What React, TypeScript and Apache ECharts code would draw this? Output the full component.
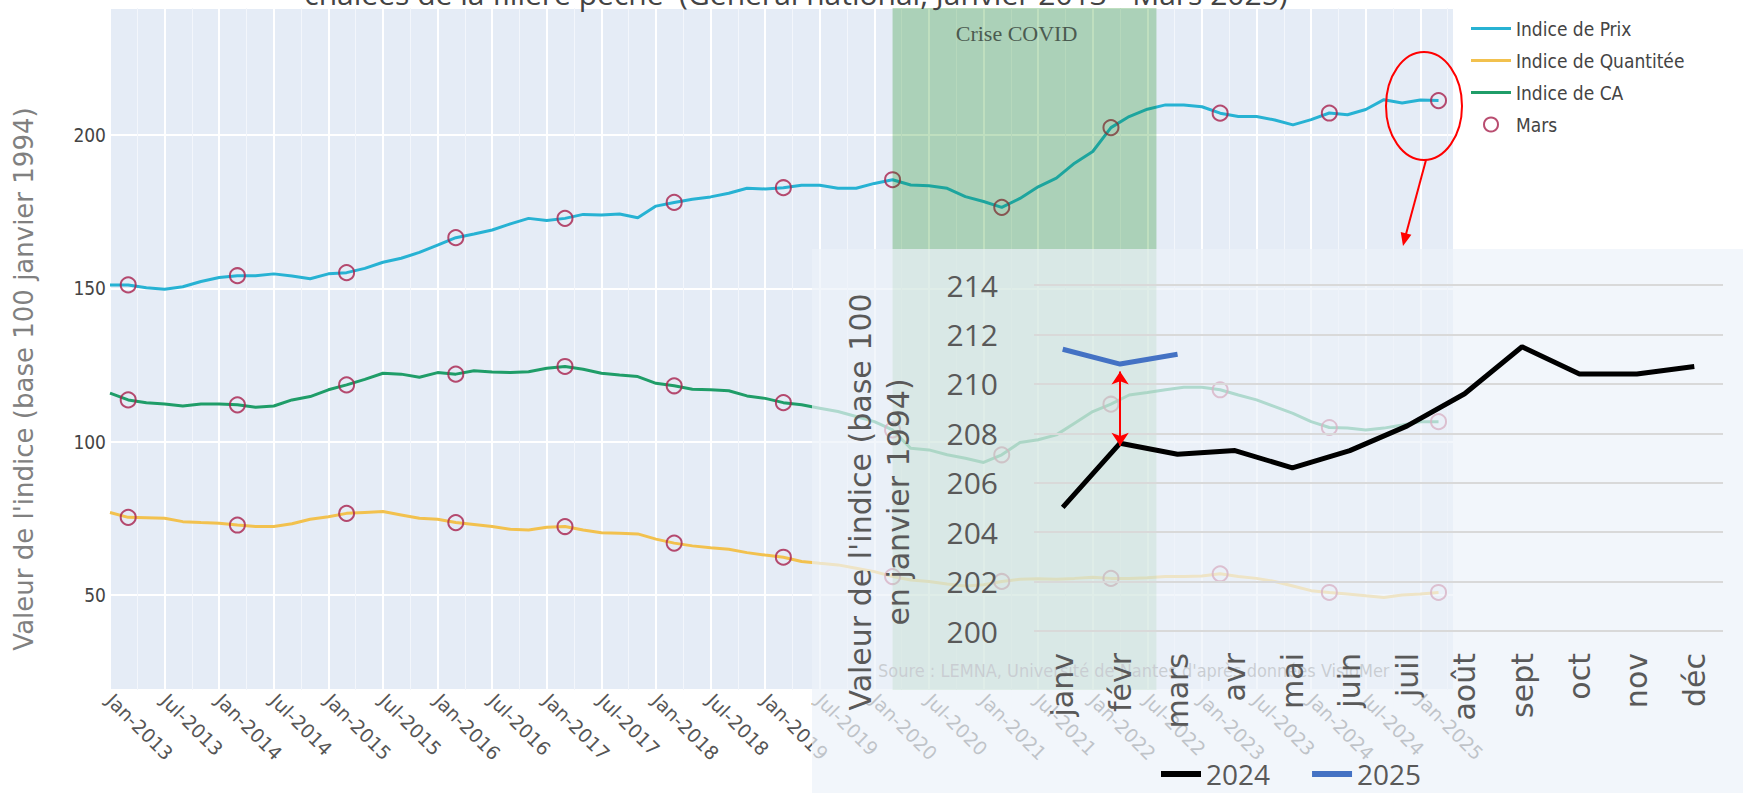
import React, { useEffect, useRef } from "react";
import * as echarts from "echarts";

// ---------- Background chart data (month index 0 = Jan 2013, read every 2 months) ----------
const monthIdx: number[] = Array.from({ length: 74 }, (_, i) => i * 2);

const prix = [
  151.1, 151.1, 150.2, 149.7, 150.5, 152.2, 153.5, 154.1, 154.1, 154.7,
  154.0, 153.1, 154.7, 155.1, 156.5, 158.5, 159.8, 161.7, 164.1, 166.5,
  167.7, 169.0, 171.0, 172.8, 172.1, 172.8, 174.1, 173.9, 174.2, 173.0,
  176.8, 178.0, 179.0, 179.8, 181.0, 182.6, 182.4, 182.8, 183.6, 183.6,
  182.6, 182.6, 184.2, 185.4, 183.7, 183.4, 182.6, 179.9, 178.3, 176.4,
  179.3, 183.1, 185.9, 190.8, 194.6, 202.4, 206.0, 208.4, 209.8, 209.8,
  209.2, 207.1, 206.0, 206.0, 204.9, 203.3, 205.0, 207.15, 206.6, 208.3,
  211.5, 210.4, 211.4, 211.2,
];

const quantite = [
  76.9, 75.3, 75.2, 75.0, 73.9, 73.6, 73.4, 72.8, 72.3, 72.3,
  73.2, 74.7, 75.5, 76.6, 76.9, 77.2, 76.1, 75.0, 74.7, 73.6,
  73.0, 72.3, 71.4, 71.2, 72.1, 72.3, 71.2, 70.3, 70.1, 69.9,
  68.2, 66.9, 66.0, 65.4, 64.9, 63.8, 63.0, 62.3, 60.9, 60.3,
  59.8, 58.7, 57.6, 56.0, 54.9, 54.4, 53.6, 52.9, 53.3, 54.4,
  55.1, 55.3, 55.1, 55.4, 55.8, 55.4, 55.4, 55.6, 56.0, 56.0,
  56.2, 56.9, 56.0, 55.4, 54.4, 52.9, 51.4, 50.8, 50.3, 49.7,
  49.2, 50.0, 50.3, 50.8,
];

const ca = [
  115.8, 113.6, 112.7, 112.3, 111.6, 112.3, 112.3, 112.0, 111.2, 111.6,
  113.6, 114.7, 116.9, 118.5, 120.3, 122.3, 122.0, 121.0, 122.5, 122.0,
  123.1, 122.7, 122.5, 122.8, 123.9, 124.5, 123.6, 122.3, 121.7, 121.2,
  119.0, 118.2, 117.1, 116.9, 116.6, 114.9, 114.1, 112.7, 112.0, 110.9,
  109.8, 108.2, 106.5, 103.8, 97.8, 97.3, 95.7, 94.6, 93.2, 95.7,
  99.7, 100.6, 102.2, 106.0, 109.8, 112.2, 115.2, 116.0, 116.9, 117.7,
  117.7, 116.9, 115.2, 113.6, 111.4, 109.2, 106.5, 104.6, 104.4, 103.8,
  104.4, 105.4, 106.5, 106.5,
];

const xTickLabels = [
  "Jan-2013", "Jul-2013", "Jan-2014", "Jul-2014", "Jan-2015", "Jul-2015",
  "Jan-2016", "Jul-2016", "Jan-2017", "Jul-2017", "Jan-2018", "Jul-2018",
  "Jan-2019", "Jul-2019", "Jan-2020", "Jul-2020", "Jan-2021", "Jul-2021",
  "Jan-2022", "Jul-2022", "Jan-2023", "Jul-2023", "Jan-2024", "Jul-2024",
  "Jan-2025",
];

const covidBand = [86, 115]; // Mar 2020 -> Aug 2022 (month index)
const marchMonth = 2; // March = month 2 of each year

// ---------- Inset chart data ----------
const insetMonths = ["janv", "févr", "mars", "avr", "mai", "juin", "juil", "août", "sept", "oct", "nov", "déc"];
const y2024 = [205.0, 207.6, 207.15, 207.3, 206.6, 207.3, 208.3, 209.6, 211.5, 210.4, 210.4, 210.7];
const y2025 = [211.4, 210.8, 211.2];
const arrowSpan = [210.5, 207.5];

const COND = "'DejaVu Sans Condensed', 'Liberation Sans Narrow', 'Open Sans', sans-serif";

const pairs = (vals: number[]) => monthIdx.map((m, i) => [m, vals[i]]);
const marchPoints = (vals: number[]) =>
  monthIdx.map((m, i) => [m, vals[i]]).filter((p) => p[0] % 12 === marchMonth);

export default function App() {
  const bgRef = useRef<HTMLDivElement>(null);
  const insetRef = useRef<HTMLDivElement>(null);

  useEffect(() => {
    const c1 = echarts.init(bgRef.current!, null, { renderer: "svg" });
    const lineIcon = "path://M0,0L40,0L40,3L0,3Z";
    c1.setOption({
      animation: false,
      backgroundColor: "#ffffff",
      grid: { left: 110, right: 289, top: 8, bottom: 103, show: true, backgroundColor: "#e5ecf6", borderWidth: 0 },
      xAxis: {
        type: "value",
        min: 0,
        max: 147.7,
        interval: 6,
        axisLine: { show: false },
        axisTick: { show: false },
        axisLabel: {
          rotate: -45,
          margin: 7,
          fontSize: 19,
          color: "#555",
          fontFamily: "DejaVu Sans",
          showMinLabel: true,
          showMaxLabel: false,
          formatter: (v: number) => {
            const k = Math.round(v / 6);
            return Math.abs(v - k * 6) < 0.01 && xTickLabels[k] ? xTickLabels[k] : "";
          },
        },
        splitLine: { show: true, lineStyle: { color: "#ffffff", width: 2 } },
        minorTick: { show: false, splitNumber: 2 },
        minorSplitLine: { show: true, lineStyle: { color: "#f3f6fb", width: 1 } },
      },
      yAxis: {
        type: "value",
        min: 19,
        max: 241.4,
        splitNumber: 5,
        axisLine: { show: false },
        axisTick: { show: false },
        axisLabel: { showMinLabel: false, showMaxLabel: false, margin: 4, fontSize: 19, color: "#444", fontFamily: COND },
        splitLine: { show: true, lineStyle: { color: "#ffffff", width: 2 } },
      },
      legend: {
        orient: "vertical",
        left: 1466,
        top: 14,
        itemWidth: 40,
        itemHeight: 14,
        itemGap: 13,
        textStyle: { fontSize: 19, color: "#444", fontFamily: COND },
        data: [
          { name: "Indice de Prix", icon: lineIcon },
          { name: "Indice de Quantitée", icon: lineIcon },
          { name: "Indice de CA", icon: lineIcon },
          { name: "Mars", icon: "circle", itemStyle: { color: "rgba(0,0,0,0)", borderColor: "#a8204c", borderWidth: 2 } },
        ],
      },
      series: [
        {
          name: "Indice de Prix", type: "line", data: pairs(prix), showSymbol: false, z: 2,
          lineStyle: { color: "#27b2d3", width: 3 }, itemStyle: { color: "#27b2d3" },
        },
        {
          name: "Indice de Quantitée", type: "line", data: pairs(quantite), showSymbol: false, z: 2,
          lineStyle: { color: "#f2c14e", width: 3 }, itemStyle: { color: "#f2c14e" },
        },
        {
          name: "Indice de CA", type: "line", data: pairs(ca), showSymbol: false, z: 2,
          lineStyle: { color: "#1f9d68", width: 3 }, itemStyle: { color: "#1f9d68" },
        },
        {
          name: "Mars", type: "scatter", z: 3, symbol: "circle", symbolSize: 15,
          data: [...marchPoints(prix), ...marchPoints(ca), ...marchPoints(quantite)],
          itemStyle: { color: "rgba(0,0,0,0)", borderColor: "#a8204c", borderWidth: 2 },
        },
        {
          type: "line", data: [], silent: true, z: 4,
          markArea: {
            silent: true,
            z: 6,
            itemStyle: { color: "rgba(0,128,0,0.25)" },
            label: {
              show: true, position: "insideTop", offset: [-8, 9],
              color: "#4b5b50", fontSize: 22, fontFamily: "'Liberation Serif', serif",
            },
            data: [[{ name: "Crise COVID", xAxis: covidBand[0] }, { xAxis: covidBand[1] }]],
          },
        },
      ],
      graphic: [
        {
          type: "text", x: 796, y: 8, z: 20,
          style: {
            text: "chalées de la filière pêche  (Général national, Janvier 2013 - Mars 2025)",
            align: "center", verticalAlign: "bottom", fontSize: 30, fontFamily: "'Open Sans', sans-serif", fill: "#444",
          },
        },
        {
          type: "text", x: 24, y: 379, rotation: Math.PI / 2, z: 20,
          style: {
            text: "Valeur de l'indice (base 100 janvier 1994)",
            align: "center", verticalAlign: "middle", fontSize: 26, fontFamily: "DejaVu Sans", fill: "#808080",
          },
        },
        {
          type: "text", x: 878, y: 670, z: 20,
          style: {
            text: "Soure : LEMNA, Université de Nantes d'après données VisioMer",
            align: "left", verticalAlign: "middle", fontSize: 18, fontFamily: COND, fill: "#777",
          },
        },
        {
          type: "ellipse", z: 20,
          shape: { cx: 1424, cy: 106, rx: 38, ry: 54 },
          style: { fill: "none", stroke: "#ff0000", lineWidth: 2 },
        },
        {
          type: "line", z: 20,
          shape: { x1: 1426, y1: 160, x2: 1405.5, y2: 236 },
          style: { stroke: "#ff0000", lineWidth: 2 },
        },
        {
          type: "polygon", z: 20,
          shape: { points: [[1403, 246], [1411.4, 234.7], [1400.7, 232.1]] },
          style: { fill: "#ff0000" },
        },
      ],
    });

    const c2 = echarts.init(insetRef.current!, null, { renderer: "svg" });
    c2.setOption({
      animation: false,
      backgroundColor: "transparent",
      grid: { left: 222, right: 20, top: 36, bottom: 162 },
      xAxis: {
        type: "category",
        data: insetMonths,
        boundaryGap: true,
        axisLine: { show: false },
        axisTick: { show: false },
        splitLine: { show: false },
        axisLabel: { rotate: 90, margin: 22, fontSize: 30, color: "#595959", fontFamily: "DejaVu Sans", interval: 0 },
      },
      yAxis: {
        type: "value",
        min: 200,
        max: 214,
        interval: 2,
        axisLine: { show: false },
        axisTick: { show: false },
        axisLabel: { margin: 36, fontSize: 30, color: "#595959", fontFamily: "'Open Sans', sans-serif" },
        splitLine: { show: true, lineStyle: { color: "#d9d9d9", width: 2 } },
      },
      legend: {
        data: ["2024", "2025"],
        left: 344,
        top: 506,
        itemWidth: 40,
        itemHeight: 6,
        icon: "rect",
        itemGap: 42,
        textStyle: { fontSize: 28, color: "#595959", fontFamily: "'Open Sans', sans-serif" },
      },
      series: [
        {
          name: "2024", type: "line", data: y2024, symbol: "none",
          lineStyle: { color: "#000000", width: 5 }, itemStyle: { color: "#000000" },
        },
        {
          name: "2025", type: "line", data: y2025, symbol: "none",
          lineStyle: { color: "#4472c4", width: 5 }, itemStyle: { color: "#4472c4" },
          markLine: {
            silent: true,
            symbol: ["arrow", "arrow"],
            symbolSize: 13,
            label: { show: false },
            lineStyle: { color: "#ff0000", width: 2, type: "solid" },
            data: [[{ coord: ["févr", arrowSpan[0]] }, { coord: ["févr", arrowSpan[1]] }]],
          },
        },
      ],
      graphic: [
        {
          type: "text", x: 67, y: 253, rotation: Math.PI / 2,
          style: {
            text: "Valeur de l'indice (base 100\nen janvier 1994)",
            align: "center", verticalAlign: "middle", fontSize: 30, lineHeight: 38,
            fontFamily: "DejaVu Sans", fill: "#595959",
          },
        },
      ],
    });

    return () => {
      c1.dispose();
      c2.dispose();
    };
  }, []);

  return (
    <div style={{ position: "absolute", left: 0, top: 0, width: 1743, height: 793, background: "#fff", overflow: "hidden" }}>
      <div ref={bgRef} style={{ position: "absolute", left: 0, top: 0, width: 1743, height: 793 }} />
      <div style={{ position: "absolute", left: 812, top: 249, width: 931, height: 544, background: "rgba(236,242,249,0.7)" }}>
        <div ref={insetRef} style={{ width: 931, height: 544 }} />
      </div>
    </div>
  );
}
